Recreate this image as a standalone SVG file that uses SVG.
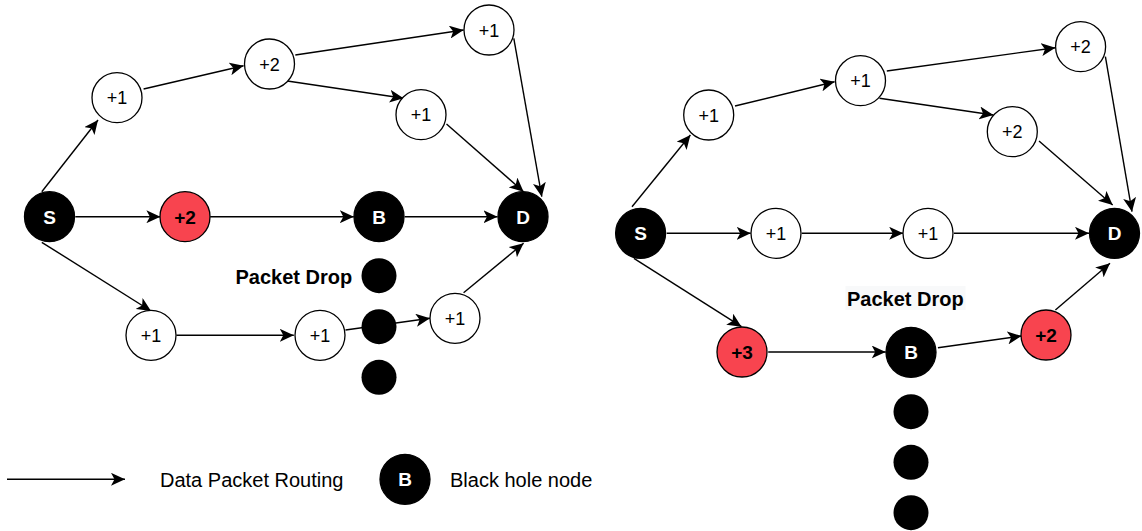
<svg xmlns="http://www.w3.org/2000/svg" width="1142" height="531" viewBox="0 0 1142 531">
<style>
.n{fill:#fff;stroke:#000;stroke-width:1.3}
.r{fill:#F8444F;stroke:#000;stroke-width:1.3}
.k{fill:#000;stroke:#000;stroke-width:1.3}
.d{fill:#000}
.t{font-family:"Liberation Sans",Arial,sans-serif;font-size:18px;text-anchor:middle;fill:#000}
.tb{font-family:"Liberation Sans",Arial,sans-serif;font-size:19px;font-weight:bold;text-anchor:middle;fill:#000}
.tw{font-family:"Liberation Sans",Arial,sans-serif;font-size:19px;font-weight:bold;text-anchor:middle;fill:#fff}
.lbl{font-family:"Liberation Sans",Arial,sans-serif;font-size:20px;fill:#000}
.lb{font-family:"Liberation Sans",Arial,sans-serif;font-size:20px;font-weight:bold;fill:#000}
.e{fill:none;stroke:#000;stroke-width:1.4;marker-end:url(#ah)}
</style>
<defs>
<marker id="ah" markerUnits="userSpaceOnUse" markerWidth="15" markerHeight="13" refX="14" refY="6.5" orient="auto">
<path d="M0,0 L14,6.5 L0,13 L3.5,6.5 Z" fill="#000"/>
</marker>
</defs>
<rect width="1142" height="531" fill="#fff"/>
<g id="connectors">
<line class="e" x1="41.8" y1="191.7" x2="98" y2="120"/>
<line class="e" x1="143.6" y1="89" x2="243.6" y2="65.7"/>
<line class="e" x1="295.3" y1="55" x2="463.6" y2="30"/>
<line class="e" x1="287.3" y1="81" x2="403.6" y2="98.3"/>
<line class="e" x1="513.8" y1="38.3" x2="541.8" y2="196.7"/>
<line class="e" x1="446.5" y1="124" x2="523.6" y2="191.7"/>
<line class="e" x1="75.3" y1="216.7" x2="160.4" y2="216.7"/>
<line class="e" x1="210.2" y1="216.7" x2="353.8" y2="216.7"/>
<line class="e" x1="404.7" y1="216.7" x2="497.5" y2="216.7"/>
<line class="e" x1="41.8" y1="242.3" x2="151" y2="311"/>
<line class="e" x1="176.4" y1="335.3" x2="293.8" y2="335.3"/>
<line class="e" x1="345.5" y1="330" x2="430" y2="318.3"/>
<line class="e" x1="463.6" y1="292.7" x2="523.6" y2="243.3"/>
<line class="e" x1="632" y1="206.7" x2="690.4" y2="135"/>
<line class="e" x1="735" y1="106" x2="834.6" y2="81.7"/>
<line class="e" x1="886.8" y1="71" x2="1055.4" y2="47.7"/>
<line class="e" x1="879.5" y1="98.3" x2="993.4" y2="115"/>
<line class="e" x1="1105.4" y1="56.7" x2="1132" y2="211.7"/>
<line class="e" x1="1039" y1="141" x2="1112.7" y2="205"/>
<line class="e" x1="666.7" y1="233.3" x2="750.7" y2="233.3"/>
<line class="e" x1="801.8" y1="233.3" x2="903.2" y2="233.3"/>
<line class="e" x1="954" y1="233.3" x2="1089" y2="233.3"/>
<line class="e" x1="633.9" y1="258.3" x2="741.5" y2="326.7"/>
<line class="e" x1="768.2" y1="352" x2="885.7" y2="352"/>
<line class="e" x1="937.9" y1="347.7" x2="1021.5" y2="336"/>
<line class="e" x1="1055.4" y1="310" x2="1110" y2="263.3"/>
<line class="e" x1="7" y1="479.3" x2="125" y2="479.3"/>
</g>
<g id="L-S"><circle class="k" cx="49.5" cy="216.7" r="25"/><text class="tw" x="49.5" y="223.6">S</text></g>
<g id="L-R2"><circle class="r" cx="185" cy="216.7" r="25"/><text class="tb" x="185" y="223.6">+2</text></g>
<g id="L-B"><circle class="k" cx="379" cy="216.7" r="25"/><text class="tw" x="379" y="223.6">B</text></g>
<g id="L-D"><circle class="k" cx="523" cy="216.7" r="25"/><text class="tw" x="523" y="223.6">D</text></g>
<g id="L-U1"><circle class="n" cx="117" cy="97.7" r="25"/><text class="t" x="117" y="104.2">+1</text></g>
<g id="L-U2"><circle class="n" cx="269.5" cy="64" r="25"/><text class="t" x="269.5" y="70.5">+2</text></g>
<g id="L-U3"><circle class="n" cx="489" cy="30" r="25"/><text class="t" x="489" y="36.5">+1</text></g>
<g id="L-U4"><circle class="n" cx="421" cy="114.7" r="25"/><text class="t" x="421" y="121.2">+1</text></g>
<g id="L-L1"><circle class="n" cx="151" cy="335.3" r="25"/><text class="t" x="151" y="341.8">+1</text></g>
<g id="L-L2"><circle class="n" cx="320" cy="335.3" r="25"/><text class="t" x="320" y="341.8">+1</text></g>
<g id="L-L3"><circle class="n" cx="455" cy="318.3" r="25"/><text class="t" x="455" y="324.8">+1</text></g>
<g id="L-drop">
<circle class="d" cx="379" cy="275.7" r="17.5"/>
<circle class="d" cx="379" cy="326.7" r="17.5"/>
<circle class="d" cx="379" cy="377.3" r="17.5"/>
<text class="lb" x="235.5" y="283.5">Packet Drop</text>
</g>
<g id="R-S"><circle class="k" cx="640.6" cy="233.3" r="25"/><text class="tw" x="640.6" y="240.2">S</text></g>
<g id="R-M1"><circle class="n" cx="776" cy="233.3" r="25"/><text class="t" x="776" y="239.8">+1</text></g>
<g id="R-M2"><circle class="n" cx="928" cy="233.3" r="25"/><text class="t" x="928" y="239.8">+1</text></g>
<g id="R-D"><circle class="k" cx="1114.5" cy="233.3" r="25"/><text class="tw" x="1114.5" y="240.2">D</text></g>
<g id="R-U1"><circle class="n" cx="708.7" cy="115" r="25"/><text class="t" x="708.7" y="121.5">+1</text></g>
<g id="R-U2"><circle class="n" cx="860.5" cy="80.7" r="25"/><text class="t" x="860.5" y="87.2">+1</text></g>
<g id="R-U3"><circle class="n" cx="1080.6" cy="46.7" r="25"/><text class="t" x="1080.6" y="53.2">+2</text></g>
<g id="R-U4"><circle class="n" cx="1012.3" cy="131.7" r="25"/><text class="t" x="1012.3" y="138.2">+2</text></g>
<g id="R-R3"><circle class="r" cx="742" cy="352" r="25"/><text class="tb" x="742" y="358.9">+3</text></g>
<g id="R-B"><circle class="k" cx="911" cy="352.3" r="25"/><text class="tw" x="911" y="359.2">B</text></g>
<g id="R-R2"><circle class="r" cx="1046" cy="335" r="25"/><text class="tb" x="1046" y="341.9">+2</text></g>
<g id="R-drop">
<circle class="d" cx="911" cy="411.7" r="17.5"/>
<circle class="d" cx="911" cy="462.3" r="17.5"/>
<circle class="d" cx="911" cy="512.7" r="17.5"/>
<rect x="845.5" y="286" width="120" height="24" fill="#F8F9FA"/>
<text class="lb" x="847" y="305.5">Packet Drop</text>
</g>
<g id="legend">
<text class="lbl" x="160" y="486.5">Data Packet Routing</text>
<circle class="k" cx="405" cy="479.3" r="25"/><text class="tw" x="405" y="486.2">B</text>
<text class="lbl" x="450" y="486.5">Black hole node</text>
</g>
</svg>
